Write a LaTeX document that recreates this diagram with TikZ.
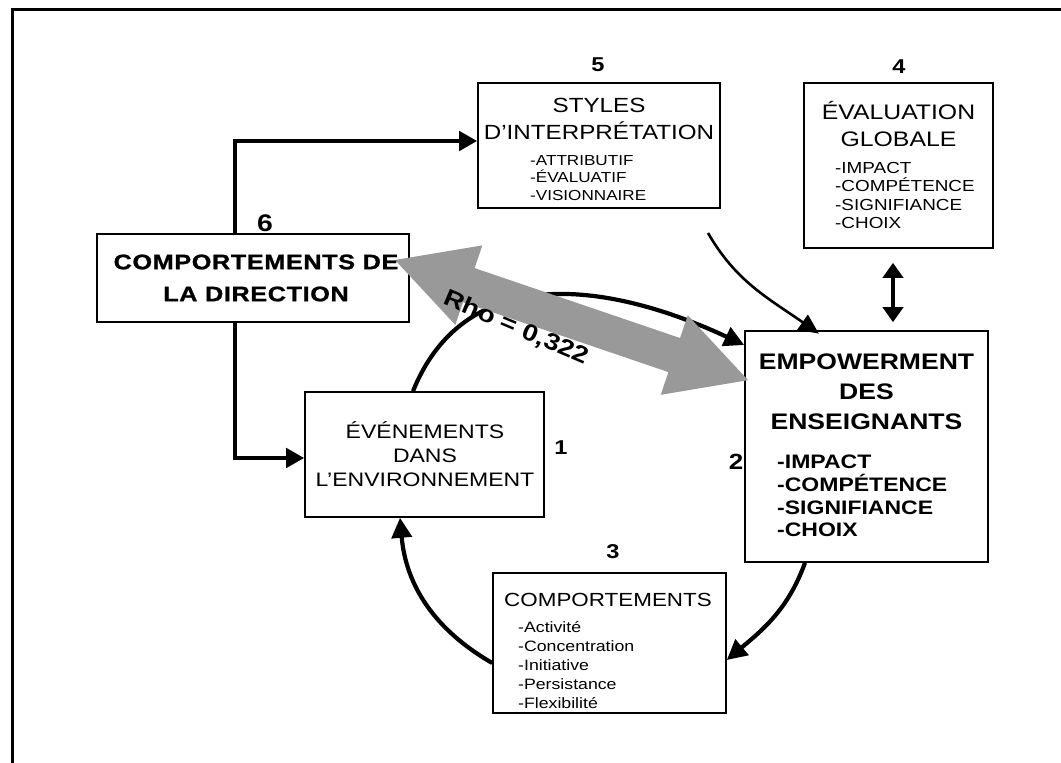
\documentclass[tikz,border=0pt]{standalone}
\usepackage{fontspec}
\setmainfont{Liberation Sans}[FakeStretch=1.18]
\newfontfamily\heavyfont{Liberation Sans}[FakeStretch=1.2,LetterSpace=3,BoldFeatures={FakeBold=1.2}]
\usetikzlibrary{arrows.meta}
\newcommand*{\fsize}[2]{\fontsize{#1}{#2}\selectfont}

\begin{document}
\begin{tikzpicture}[x=1pt, y=1pt,
    box/.style={draw, line width=1.6pt, inner sep=0pt},
    title/.style={inner sep=0pt, align=center},
    items/.style={inner sep=0pt, align=left, anchor=north west},
    num/.style={inner sep=0pt, font=\bfseries\fsize{20}{20}},
    flow/.style={line width=4.5pt, -{Triangle[length=18pt,width=19pt]}},
    cyc/.style={line width=4.2pt, -{Triangle[length=20pt,width=20pt]}},
    dbl/.style={line width=4pt, {Triangle[length=15pt,width=20pt]}-{Triangle[length=15pt,width=20pt]}},
    thinarrow/.style={line width=2.6pt, -{Triangle[length=20pt,width=18pt]}}]
  \useasboundingbox (0,0) rectangle (1061,763);
  \draw[line width=3pt] (12,0) -- (12,753) -- (1061,753);

  \node[box, minimum width=242pt, minimum height=125pt] (sty) at (599,617.5) {};
  \node[title, font=\fsize{20.5}{27}] (styT) at (599,644) {STYLES\\D'INTERPRÉTATION};
  \node[items, font=\fsize{14.5}{17.5}] (styI) at (530,608) {-ATTRIBUTIF\\-ÉVALUATIF\\-VISIONNAIRE};

  \node[box, minimum width=189pt, minimum height=165pt] (eval) at (898.5,597.5) {};
  \node[title, font=\fsize{21}{27}] (evalT) at (898.5,639) {ÉVALUATION\\GLOBALE};
  \node[items, font=\fsize{16}{18.5}] (evalI) at (835,601) {-IMPACT\\-COMPÉTENCE\\-SIGNIFIANCE\\-CHOIX};

  \node[box, minimum width=243pt, minimum height=231pt] (emp) at (866.5,316.5) {};
  \node[title, font=\bfseries\fsize{22.5}{30}] (empT) at (866.5,371) {EMPOWERMENT\\DES\\ENSEIGNANTS};
  \node[items, font=\bfseries\fsize{19.5}{22.7}] (empI) at (777,308) {-IMPACT\\-COMPÉTENCE\\-SIGNIFIANCE\\-CHOIX};

  \node[box, minimum width=239pt, minimum height=125pt] (even) at (424.5,308.5) {};
  \node[title, font=\fsize{19.5}{24}] (evenT) at (425,309) {ÉVÉNEMENTS\\DANS\\L'ENVIRONNEMENT};

  \node[box, minimum width=233pt, minimum height=140pt] (comp) at (609.5,120) {};
  \node[title, font=\fsize{19}{19}] (compT) at (608,163) {COMPORTEMENTS};
  \node[items, font=\fsize{15}{19}] (compI) at (518,142) {-Activité\\-Concentration\\-Initiative\\-Persistance\\-Flexibilité};

  \node[box, minimum width=312pt, minimum height=88pt] (dir) at (253,485) {};

  \foreach \n/\px/\py in {5/598/698, 4/899/696, 1/561/315, 3/613/211}
    \node[num] (n\n) at (\px,\py) {\n};
  \node[num, font=\bfseries\fsize{22}{22}] (n2) at (736,301) {2};
  \node[num, font=\bfseries\fsize{24}{24}] (n6) at (265,540) {6};

  \coordinate (lt) at (235,622);
  \coordinate (lb) at (235,305);
  \draw[flow] (dir.north -| lt) -- (lt) -- (lt -| sty.west);
  \draw[flow] (dir.south -| lb) -- (lb) -- (lb -| even.west);

  \coordinate (c1) at (413,0);
  \coordinate (c2) at (805,0);
  \coordinate (c4) at (0,418);
  \coordinate (c5) at (0,103);
  \coordinate (c6) at (0,100);
  \coordinate (c7) at (400,0);
  \draw[cyc] (even.north -| c1) to[out=68, in=155, looseness=1.1] (emp.west |- c4);
  \draw[cyc] (emp.south -| c2) to[out=250, in=40] (comp.east |- c5);
  \draw[cyc] (comp.west |- c6) to[out=150, in=275] (even.south -| c7);

  \coordinate (s0) at (708,530);
  \coordinate (c8) at (814,0);
  \draw[thinarrow, shorten >=-6pt] (s0) to[out=-60, in=145] (emp.north -| c8);

  \coordinate (ax) at (893,0);
  \draw[dbl, shorten <=14pt, shorten >=8pt] (eval.south -| ax) -- (emp.north -| ax);

  \begin{scope}[shift={(395,503)}, rotate=-18.8]
    \fill[black!40] (0,0) -- (78,42) -- (78,18) -- (295,18) -- (295,42) -- (373,0)
      -- (295,-42) -- (295,-18) -- (78,-18) -- (78,-42) -- cycle;
  \end{scope}
  \node[rotate=-23, inner sep=0pt, font=\bfseries\fsize{23.5}{23.5}] (rho) at (516,435) {Rho = 0,322};

  \node[title, font=\heavyfont\bfseries\fsize{21}{32}] (dirT) at (256,485) {COMPORTEMENTS DE\\LA DIRECTION};
\end{tikzpicture}
\end{document}
